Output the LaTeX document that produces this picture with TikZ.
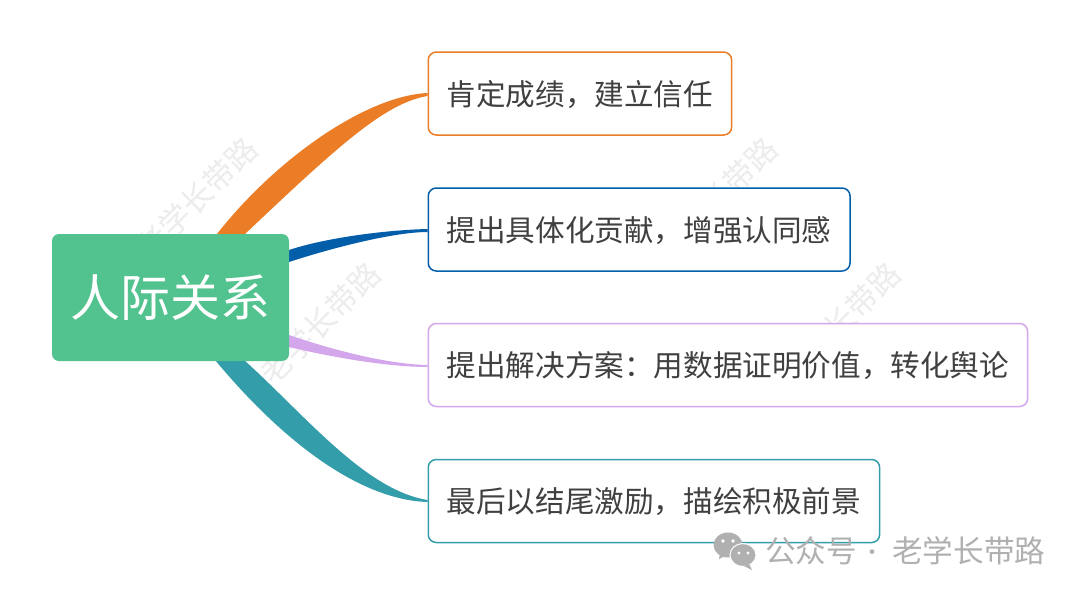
\documentclass[tikz,border=0pt]{standalone}
\usepackage{fontspec}
\setmainfont{Noto Sans CJK SC}
\usetikzlibrary{calc,backgrounds}
\definecolor{rootgreen}{RGB}{82,195,142}
\definecolor{lineorange}{RGB}{235,125,38}
\definecolor{lineblue}{RGB}{3,94,170}
\definecolor{linepurple}{RGB}{212,166,236}
\definecolor{lineteal}{RGB}{52,157,170}
\definecolor{inktext}{RGB}{64,64,64}
\definecolor{markgray}{RGB}{236,236,236}
\definecolor{footgray}{RGB}{176,176,176}
\tikzset{
	rootbox/.style={fill=rootgreen,text=white,rounded corners=7pt,minimum width=237pt,minimum height=127pt,font=\fontsize{50}{52}\selectfont,inner sep=0pt},
	leafbox/.style={draw=#1,fill=white,line width=1.5pt,rounded corners=8pt,anchor=west,minimum height=83pt,inner xsep=18.5pt,inner ysep=0pt,text height=26pt,text depth=3pt,text=inktext,font=\fontsize{29.6}{31}\selectfont},
	watermark/.style={text=markgray,rotate=45,font=\fontsize{31}{32}\selectfont,inner sep=0pt},
	footnote/.style={text=footgray,anchor=west,inner sep=0pt,font=\fontsize{30.6}{32}\selectfont},
}
\begin{document}
\begin{tikzpicture}[x=1pt,y=-1pt]
	\useasboundingbox (0,0) rectangle (1080,595);

	%boxes of the map
	\node[rootbox] (root) at (170.5,297.5) {人际关系};
	\node[leafbox=lineorange] (praise) at (427.5,93.5) {肯定成绩，建立信任};
	\node[leafbox=lineblue] (credit) at (427.5,229.5) {提出具体化贡献，增强认同感};
	\node[leafbox=linepurple] (solve) at (427.5,365) {提出解决方案：用数据证明价值，转化舆论};
	\node[leafbox=lineteal] (ending) at (427.5,501) {最后以结尾激励，描绘积极前景};

	\begin{scope}[on background layer]
	\fill[white] (0,0) rectangle (1080,595);

	%watermarks
	\node[watermark] (markA) at (197,198) {老学长带路};
	\node[watermark] (markB) at (320,323) {老学长带路};
	\node[watermark] (markC) at (717,198) {老学长带路};
	\node[watermark] (markD) at (840,323) {老学长带路};

	%tapered branches, hidden by the root at their wide end
	\fill[lineorange] (root.center) -- (217,234) .. controls (275,160) and (365,96) .. ($(praise.west)+(0,-0.5)$)
		-- ($(praise.west)+(0,2.5)$) .. controls (385,103) and (338,146) .. (245,234) -- cycle;
	\fill[lineblue] (root.center) -- (289,250) .. controls (325,238) and (385,230) .. ($(credit.west)+(0,-0.5)$)
		-- ($(credit.west)+(0,2.5)$) .. controls (395,232) and (335,247) .. (289,262) -- cycle;
	\fill[linepurple] (root.center) -- (289,335) .. controls (330,349) and (385,364) .. ($(solve.west)+(0,0)$)
		-- ($(solve.west)+(0,2)$) .. controls (390,367) and (335,358) .. (289,347) -- cycle;
	\fill[lineteal] (root.center) -- (244,360) .. controls (305,415) and (365,490) .. ($(ending.west)+(0,-1)$)
		-- ($(ending.west)+(0,1)$) .. controls (365,500) and (290,450) .. (215,360) -- cycle;
	\end{scope}

	%account line
	\fill[footgray] (728,545) ellipse (14.5 and 12.5);
	\fill[footgray] (720,553) -- (719,559) -- (727,555) -- cycle;
	\fill[footgray,draw=white,line width=1pt] (743,555) ellipse (13 and 11.5);
	\fill[footgray] (749,564) -- (752,570) -- (744,566) -- cycle;
	\fill[white] (723,541) circle (1.8) (733,541) circle (1.8) (739,553) circle (1.6) (748,553) circle (1.6);
	\node[footnote] (account) at (765,551) {公众号};
	\node[text=footgray,inner sep=0pt,font=\fontsize{22}{24}\selectfont] (dot) at (872,555) {·};
	\node[footnote] (author) at (892,551) {老学长带路};
\end{tikzpicture}
\end{document}
